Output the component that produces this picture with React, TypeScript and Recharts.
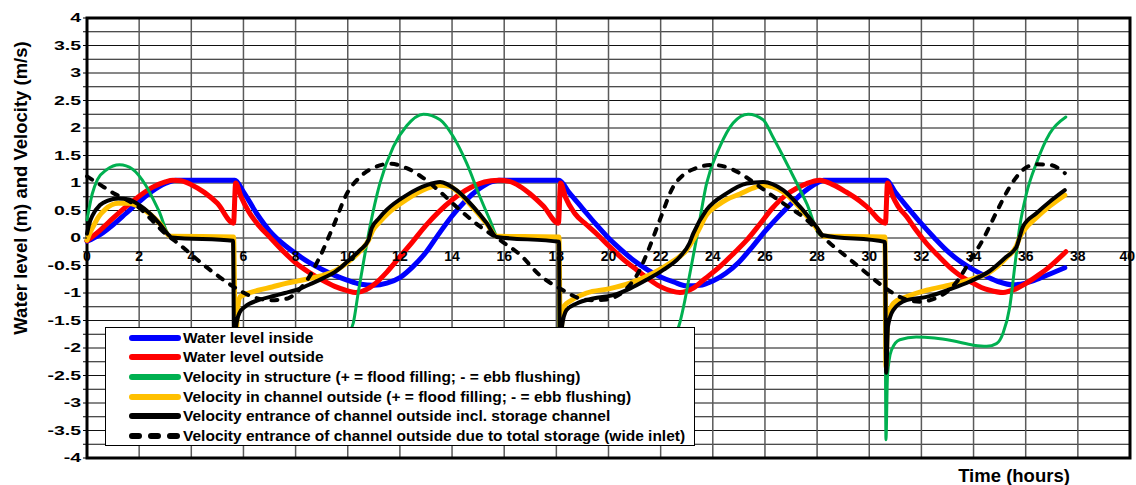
import {
  LineChart,
  Line,
  XAxis,
  YAxis,
  CartesianGrid,
  ReferenceArea,
  Legend,
  Label,
} from "recharts";

const FONT = '"Liberation Sans", Arial, Helvetica, sans-serif';

// [time (hours), value]
const levelInside: [number, number][] = [
  [0, -0.06], [0.5, 0.06], [1, 0.24], [1.5, 0.45], [2, 0.66], [2.5, 0.85], [3, 0.99], [3.4, 1.05],
  [5.67, 1.05], [6, 0.84], [6.5, 0.45], [7, 0.13], [7.5, -0.1], [8, -0.28], [8.5, -0.44], [9, -0.57],
  [9.5, -0.68], [10, -0.77], [10.5, -0.84], [11, -0.86], [11.5, -0.82], [12, -0.72], [12.5, -0.52],
  [13, -0.26], [13.5, 0.08], [14, 0.4], [14.5, 0.67], [15, 0.88], [15.5, 1.02], [15.8, 1.05],
  [18.1, 1.05], [18.5, 0.82], [19, 0.54], [19.5, 0.26], [20, 0.0], [20.5, -0.22], [21, -0.42],
  [21.5, -0.58], [22, -0.71], [22.5, -0.8], [23, -0.87], [23.5, -0.86], [24, -0.78], [24.5, -0.64],
  [25, -0.44], [25.5, -0.17], [26, 0.12], [26.5, 0.38], [27, 0.62], [27.5, 0.84], [28, 1.0], [28.25, 1.05],
  [30.66, 1.05], [31, 0.83], [31.5, 0.54], [32, 0.26], [32.5, 0.0], [33, -0.24], [33.5, -0.43],
  [34, -0.58], [34.5, -0.7], [35, -0.8], [35.5, -0.85], [36, -0.82], [36.5, -0.74], [37, -0.64], [37.5, -0.54],
];

const levelOutside: [number, number][] = [
  [0, -0.05], [0.5, 0.14], [1, 0.36], [1.5, 0.57], [2, 0.76], [2.5, 0.92], [3, 1.02], [3.3, 1.05],
  [3.6, 1.04], [4, 0.97], [4.5, 0.83], [5, 0.63], [5.62, 0.27], [5.7, 1.0], [5.9, 0.76], [6.2, 0.48],
  [6.6, 0.22], [7, 0.02], [7.5, -0.23], [8, -0.45], [8.5, -0.62], [9, -0.76], [9.5, -0.88], [10, -0.96],
  [10.3, -0.99], [10.7, -0.94], [11, -0.85], [11.5, -0.62], [12, -0.34], [12.5, -0.06], [13, 0.23],
  [13.5, 0.48], [14, 0.69], [14.5, 0.86], [15, 0.98], [15.5, 1.04], [15.8, 1.05], [16.2, 1.03],
  [16.6, 0.94], [17, 0.8], [17.5, 0.58], [18.08, 0.27], [18.16, 1.0], [18.35, 0.74], [18.7, 0.45],
  [19.16, 0.24], [19.6, 0.05], [20.05, -0.16], [20.5, -0.36], [21.08, -0.58], [21.5, -0.73],
  [21.97, -0.88], [22.4, -0.96], [22.74, -0.99], [23.25, -0.91], [23.7, -0.74], [24.27, -0.52],
  [24.8, -0.28], [25.3, -0.04], [25.8, 0.25], [26.3, 0.55], [26.8, 0.78], [27.2, 0.9], [27.6, 0.99],
  [28.1, 1.05], [28.6, 0.97], [29.1, 0.84], [29.5, 0.72], [29.9, 0.57], [30.62, 0.27], [30.7, 1.0],
  [30.9, 0.76], [31.1, 0.58], [31.43, 0.39], [31.8, 0.14], [32.2, -0.1], [32.7, -0.35], [33.2, -0.58],
  [33.6, -0.72], [33.98, -0.82], [34.3, -0.9], [34.62, -0.95], [35.13, -0.99], [35.6, -0.93],
  [36.03, -0.82], [36.5, -0.67], [36.92, -0.52], [37.54, -0.25],
];

const velStructure: [number, number][] = [
  [0, 0.33], [0.2, 0.8], [0.4, 1.06], [0.75, 1.24], [1.25, 1.33], [1.75, 1.25], [2.25, 0.96],
  [2.75, 0.5], [3.2, 0.03], [5.62, 0.0], [5.66, -3.6], [5.72, -2.4], [5.85, -2.05], [6.2, -1.86],
  [7, -1.8], [8, -1.84], [9, -1.92], [9.6, -1.94], [9.95, -1.8], [10.21, -1.55], [10.4, -1.0],
  [10.6, -0.45], [10.85, 0.2], [11.23, 0.99], [11.75, 1.66], [12.26, 2.04], [12.9, 2.25], [13.54, 2.15],
  [14.05, 1.84], [14.56, 1.36], [15.07, 0.75], [15.45, 0.33], [15.75, 0.03], [18.08, 0.0],
  [18.12, -3.6], [18.18, -2.4], [18.3, -2.05], [18.7, -1.86], [19.5, -1.8], [20.5, -1.84],
  [21.5, -1.92], [22.1, -1.94], [22.45, -1.8], [22.7, -1.6], [22.9, -1.2], [23.1, -0.7], [23.38, 0.0],
  [23.76, 0.99], [24.27, 1.66], [24.78, 2.09], [25.36, 2.25], [25.93, 2.15], [26.3, 1.84],
  [26.96, 1.24], [27.6, 0.63], [28.15, 0.05], [30.6, 0.0], [30.64, -3.67], [30.7, -2.5],
  [30.85, -2.04], [31.17, -1.85], [31.8, -1.8], [32.5, -1.82], [33.2, -1.87], [34, -1.95],
  [34.5, -1.97], [34.88, -1.92], [35.13, -1.73], [35.39, -1.25], [35.58, -0.52], [35.77, 0.2],
  [36.03, 0.81], [36.41, 1.36], [36.92, 1.9], [37.54, 2.2],
];

const velChannel: [number, number][] = [
  [0, -0.04], [0.12, 0.1], [0.25, 0.22], [0.45, 0.39], [0.7, 0.52], [1.2, 0.63], [1.6, 0.63],
  [2.03, 0.56], [2.4, 0.44], [2.8, 0.26], [3.2, 0.03], [5.62, 0.02], [5.7, -2.3], [5.76, -1.4],
  [5.87, -1.07], [6.2, -1.0], [6.57, -0.95], [7.1, -0.89], [7.59, -0.83], [8.1, -0.78], [8.61, -0.73],
  [9.1, -0.67], [9.5, -0.6], [10, -0.44], [10.47, -0.24], [10.8, -0.04], [10.95, 0.13], [11.2, 0.28],
  [11.5, 0.43], [12.26, 0.7], [13.03, 0.9], [13.5, 0.96], [13.9, 0.94], [14.17, 0.86], [14.81, 0.55],
  [15.33, 0.26], [15.72, 0.03], [18.1, 0.02], [18.16, -2.3], [18.22, -1.4], [18.33, -1.22],
  [18.52, -1.15], [19.16, -1.0], [20.05, -0.92], [20.82, -0.82], [21.71, -0.64], [22.35, -0.46],
  [22.99, -0.22], [23.28, -0.01], [23.45, 0.14], [23.76, 0.42], [24.2, 0.6], [24.53, 0.7],
  [25.04, 0.8], [25.5, 0.9], [25.93, 0.96], [26.3, 0.93], [26.7, 0.84], [27.34, 0.55], [27.98, 0.18],
  [28.25, 0.03], [30.6, 0.02], [30.64, -2.34], [30.7, -1.5], [30.92, -1.19], [31.43, -1.07],
  [32.2, -0.95], [33.15, -0.85], [33.98, -0.74], [34.62, -0.62], [35.26, -0.36], [35.65, -0.14],
  [35.77, 0.01], [35.95, 0.15], [36.41, 0.37], [36.92, 0.58], [37.5, 0.78],
];

const velEntrance: [number, number][] = [
  [0, 0.08], [0.1, 0.28], [0.2, 0.4], [0.5, 0.6], [0.8, 0.68], [1.2, 0.72], [1.6, 0.7], [2, 0.6],
  [2.4, 0.45], [2.8, 0.25], [3.1, 0.07], [3.25, 0.01], [5.6, -0.05], [5.65, -2.5], [5.72, -1.6],
  [5.85, -1.36], [6.06, -1.25], [6.57, -1.13], [7.2, -1.05], [7.59, -1.0], [8.17, -0.92], [8.61, -0.83],
  [9.1, -0.72], [9.5, -0.62], [9.75, -0.53], [10.1, -0.38], [10.47, -0.22], [10.79, -0.04], [10.92, 0.18],
  [11.2, 0.36], [11.49, 0.51], [12.26, 0.78], [13.03, 0.96], [13.54, 1.02], [14.17, 0.87], [14.81, 0.57],
  [15.33, 0.27], [15.71, 0.02], [18.1, -0.07], [18.14, -2.5], [18.22, -1.6], [18.39, -1.31],
  [18.78, -1.19], [19.41, -1.1], [20.18, -1.04], [20.82, -0.92], [21.46, -0.76], [22.1, -0.58],
  [22.74, -0.34], [23.1, -0.1], [23.25, 0.08], [23.76, 0.51], [24.53, 0.81], [25.3, 0.99], [25.93, 1.02],
  [26.7, 0.87], [27.34, 0.57], [27.98, 0.2], [28.23, 0.05], [30.6, -0.07], [30.65, -2.45], [30.72, -1.6],
  [30.92, -1.31], [31.43, -1.13], [32.2, -1.07], [33.1, -0.93], [33.86, -0.79], [34.62, -0.6],
  [35.26, -0.34], [35.65, -0.16], [35.77, 0.02], [35.9, 0.21], [36.41, 0.45], [36.92, 0.66], [37.5, 0.87],
];

const velWideInlet: [number, number][] = [
  [0, 1.12], [0.5, 0.97], [1, 0.82], [1.5, 0.7], [2, 0.55], [2.5, 0.32], [3, 0.08], [3.5, -0.1],
  [4, -0.3], [4.5, -0.5], [5, -0.68], [5.6, -0.88], [6.3, -1.06], [7.08, -1.13], [7.7, -1.1],
  [8.05, -0.98], [8.36, -0.82], [8.87, -0.4], [9.45, 0.22], [9.96, 0.8], [10.47, 1.11], [11.11, 1.3],
  [11.62, 1.35], [12.26, 1.27], [12.9, 1.09], [13.54, 0.84], [14.3, 0.51], [15.07, 0.21], [15.84, -0.04],
  [16.6, -0.3], [17.37, -0.68], [18.26, -0.95], [18.9, -1.1], [19.4, -1.13], [19.93, -1.12],
  [20.3, -1.06], [20.69, -0.92], [21.2, -0.58], [21.46, -0.3], [21.97, 0.33], [22.48, 0.93],
  [22.85, 1.14], [23.25, 1.25], [24, 1.33], [24.78, 1.24], [25.3, 1.1], [25.8, 0.93], [26.7, 0.63],
  [27.6, 0.33], [28.36, -0.04], [29.13, -0.34], [29.9, -0.64], [30.53, -0.88], [31.17, -1.07],
  [31.94, -1.16], [32.4, -1.12], [32.7, -1.06], [33.0, -0.97], [33.35, -0.8], [33.86, -0.42],
  [34.37, -0.02], [34.88, 0.47], [35.39, 0.93], [35.9, 1.24], [36.41, 1.34], [36.92, 1.33], [37.5, 1.18],
];

const xTicks = [0, 2, 4, 6, 8, 10, 12, 14, 16, 18, 20, 22, 24, 26, 28, 30, 32, 34, 36, 38, 40];
const yTicks = [
  -4, -3.75, -3.5, -3.25, -3, -2.75, -2.5, -2.25, -2, -1.75, -1.5, -1.25, -1, -0.75, -0.5, -0.25,
  0, 0.25, 0.5, 0.75, 1, 1.25, 1.5, 1.75, 2, 2.25, 2.5, 2.75, 3, 3.25, 3.5, 3.75, 4,
];

const SERIES = [
  { key: "inside", name: "Water level inside", color: "#0000ff", width: 5, dash: "", data: levelInside },
  { key: "outside", name: "Water level outside", color: "#ff0000", width: 5, dash: "", data: levelOutside },
  { key: "structure", name: "Velocity in structure (+ = flood filling; - = ebb flushing)", color: "#00b050", width: 3, dash: "", data: velStructure },
  { key: "channel", name: "Velocity in channel outside (+ = flood filling; - = ebb flushing)", color: "#ffc000", width: 5, dash: "", data: velChannel },
  { key: "entrance", name: "Velocity entrance of channel outside incl. storage channel", color: "#000000", width: 4, dash: "", data: velEntrance },
  { key: "wide", name: "Velocity entrance of channel outside due to total storage (wide inlet)", color: "#000000", width: 4, dash: "6 9", data: velWideInlet },
];

const ZERO_LABEL_Y = 261;

function XTick({ x, payload }: any) {
  // last label sits on the right border, keep it inside the picture
  const last = payload.value === xTicks[xTicks.length - 1];
  return (
    <text
      x={last ? x + 5 : x}
      y={ZERO_LABEL_Y}
      textAnchor={last ? "end" : "middle"}
      fontFamily={FONT}
      fontSize={14}
      fontWeight="bold"
      fill="#000"
    >
      {payload.value}
    </text>
  );
}

function YTick({ x, y, payload }: any) {
  const v = payload.value;
  if (Math.round(v * 2) !== v * 2) return <g />;
  return (
    <text
      x={x}
      y={y}
      dy={4.5}
      textAnchor="end"
      fontFamily={FONT}
      fontSize={13}
      fontWeight="bold"
      fill="#000"
      transform={`translate(${x} ${y}) scale(1.5 1) translate(${-x} ${-y})`}
    >
      {String(v)}
    </text>
  );
}

function YTitle() {
  return (
    <text
      x={27}
      y={188}
      transform="rotate(-90 27 188)"
      textAnchor="middle"
      fontFamily={FONT}
      fontSize={18.5}
      fontWeight="bold"
      fill="#000"
    >
      Water level (m) and Velocity (m/s)
    </text>
  );
}

function XTitle() {
  return (
    <text x={1014} y={482} textAnchor="middle" fontFamily={FONT} fontSize={18.5} fontWeight="bold" fill="#000">
      Time (hours)
    </text>
  );
}

function LegendBox() {
  return (
    <div
      style={{
        width: 590,
        height: 119,
        boxSizing: "border-box",
        border: "1.5px solid #000",
        background: "#fff",
        fontFamily: FONT,
        fontSize: 15.5,
        fontWeight: "bold",
        color: "#000",
        paddingTop: 0,
      }}
    >
      {SERIES.map((s) => (
        <div key={s.key} style={{ display: "flex", alignItems: "center", height: 19.6, paddingLeft: 22 }}>
          <svg width={54} height={10} style={{ flex: "none" }}>
            <line
              x1={4}
              x2={50}
              y1={5}
              y2={5}
              stroke={s.color}
              strokeWidth={6}
              strokeLinecap="round"
              strokeDasharray={s.dash ? "7 12" : undefined}
            />
          </svg>
          <span style={{ whiteSpace: "nowrap", marginLeft: 1 }}>{s.name}</span>
        </div>
      ))}
    </div>
  );
}

export default function App() {
  return (
    <div style={{ position: "absolute", left: 0, top: 0 }}>
      <LineChart width={1136} height={485} margin={{ top: 18, right: 6, bottom: 0, left: 27 }}>
        <CartesianGrid vertical={false} stroke="#111" strokeWidth={1} />
        <CartesianGrid horizontal={false} stroke="#5a5a5a" strokeWidth={1.5} />
        <XAxis
          dataKey="t"
          type="number"
          domain={[0, 40]}
          ticks={xTicks}
          interval={0}
          height={27}
          axisLine={false}
          tickLine={false}
          tickSize={0}
          tickMargin={0}
          tick={<XTick />}
        >
          <Label content={<XTitle />} />
        </XAxis>
        <YAxis
          type="number"
          domain={[-4, 4]}
          ticks={yTicks}
          interval={0}
          width={60}
          axisLine={false}
          tickLine={{ stroke: "#000" }}
          tickSize={4}
          tickMargin={2}
          tick={<YTick />}
        >
          <Label content={<YTitle />} />
        </YAxis>
        {SERIES.map((s) => (
          <Line
            key={s.key}
            name={s.name}
            data={s.data.map(([t, v]) => ({ t, v }))}
            dataKey="v"
            type="monotone"
            stroke={s.color}
            strokeWidth={s.width}
            strokeDasharray={s.dash || undefined}
            strokeLinecap="round"
            strokeLinejoin="round"
            dot={false}
            activeDot={false}
            isAnimationActive={false}
          />
        ))}
        <ReferenceArea x1={0} x2={40} y1={-4} y2={4} fill="none" fillOpacity={0} stroke="#000" strokeWidth={3} />
        <Legend
          layout="vertical"
          align="center"
          verticalAlign="middle"
          wrapperStyle={{ left: 105, top: 327, width: 590, height: 119 }}
          content={<LegendBox />}
        />
      </LineChart>
    </div>
  );
}
